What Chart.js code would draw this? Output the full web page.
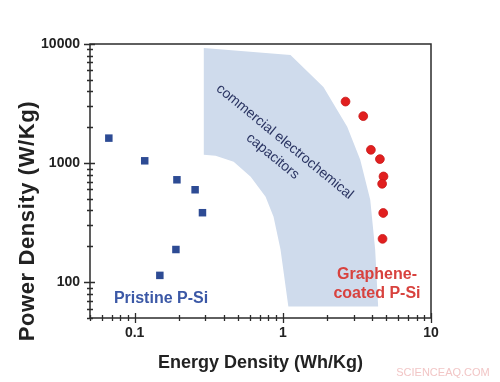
<!DOCTYPE html>
<html>
<head>
<meta charset="utf-8">
<script src="https://cdn.jsdelivr.net/npm/chart.js@4.4.1/dist/chart.umd.min.js"></script>
<style>
html,body{margin:0;padding:0;background:#ffffff;}
#wrap{width:500px;height:382px;position:relative;}
</style>
</head>
<body>
<div id="wrap"><canvas id="c" width="500" height="382"></canvas></div>
<script>
// ---- data ----
const pristineX = [0.067, 0.117, 0.193, 0.256, 0.287, 0.190, 0.148];
const pristineY = [1620, 1045, 724, 597, 383, 188, 114];
const grapheneX = [2.65, 3.49, 3.93, 4.52, 4.78, 4.68, 4.76, 4.71];
const grapheneY = [3285, 2478, 1292, 1080, 772, 670, 381, 231];
// commercial electrochemical capacitor region (outline)
const regionX = [0.293, 1.127, 1.88, 2.72, 3.33, 3.89, 4.20, 4.40, 1.09, 0.965, 0.866, 0.765, 0.607, 0.466, 0.352, 0.293];
const regionY = [9260, 8090, 4360, 2015, 1066, 492, 188, 62.5, 62.5, 188, 355, 522, 767, 1025, 1151, 1174];
const xTickValues = [0.1, 1, 10];
const xTickLabels = ['0.1', '1', '10'];
const yTickValues = [100, 1000, 10000];
const yTickLabels = ['100', '1000', '10000'];
const xMinorTicks = [0.05,0.06,0.07,0.08,0.09,0.2,0.3,0.4,0.5,0.6,0.7,0.8,0.9,2,3,4,5,6,7,8,9];
const yMinorTicks = [50,60,70,80,90,200,300,400,500,600,700,800,900,2000,3000,4000,5000,6000,7000,8000,9000];
const xTitle = 'Energy Density (Wh/Kg)';
const yTitle = 'Power Density (W/Kg)';

const zip = (xs, ys) => xs.map((x, i) => ({x: x, y: ys[i]}));

const axisPlugin = {
  id: 'axisPlugin',
  afterDraw(chart) {
    const ctx = chart.ctx;
    const xs = chart.scales.x, ys = chart.scales.y;
    const a = chart.chartArea;
    ctx.save();
    // annotation text in region
    ctx.fillStyle = '#2a3462';
    ctx.font = '14px "Liberation Sans", Arial, sans-serif';
    ctx.textAlign = 'center';
    ctx.textBaseline = 'middle';
    const ang = 39.4 * Math.PI / 180;
    const cx = xs.getPixelForValue(1.03), cy = ys.getPixelForValue(1510);
    ctx.translate(cx, cy);
    ctx.rotate(ang);
    ctx.fillText('commercial electrochemical', 0, 0);
    ctx.fillText('capacitors', 0, 19);
    ctx.restore();

    ctx.save();
    // labels
    ctx.textAlign = 'center';
    ctx.textBaseline = 'middle';
    ctx.font = 'bold 16px "Liberation Sans", Arial, sans-serif';
    ctx.fillStyle = '#3b58a6';
    ctx.fillText('Pristine P-Si', 161, 299);
    ctx.fillStyle = '#d8423e';
    ctx.fillText('Graphene-', 377, 275);
    ctx.fillText('coated P-Si', 377, 294);

    // frame
    ctx.strokeStyle = '#2b2b2b';
    ctx.lineWidth = 1.5;
    ctx.strokeRect(a.left, a.top, a.right - a.left, a.bottom - a.top);
    // ticks
    ctx.lineWidth = 1.3;
    ctx.beginPath();
    xMinorTicks.forEach(v => { const p = Math.round(xs.getPixelForValue(v)) + 0.5; ctx.moveTo(p, a.bottom - 3); ctx.lineTo(p, a.bottom + 3); });
    xTickValues.forEach(v => { const p = Math.round(xs.getPixelForValue(v)) + 0.5; ctx.moveTo(p, a.bottom - 5); ctx.lineTo(p, a.bottom + 5); });
    yMinorTicks.forEach(v => { const p = Math.round(ys.getPixelForValue(v)) + 0.5; ctx.moveTo(a.left - 3, p); ctx.lineTo(a.left + 3, p); });
    yTickValues.forEach(v => { const p = Math.round(ys.getPixelForValue(v)) + 0.5; ctx.moveTo(a.left - 6, p); ctx.lineTo(a.left + 5, p); });
    ctx.stroke();

    // tick labels
    ctx.fillStyle = '#222';
    ctx.font = 'bold 14px "Liberation Sans", Arial, sans-serif';
    ctx.textAlign = 'center';
    ctx.textBaseline = 'middle';
    xTickValues.forEach((v, i) => ctx.fillText(xTickLabels[i], xs.getPixelForValue(v), a.bottom + 15));
    ctx.textAlign = 'right';
    yTickValues.forEach((v, i) => ctx.fillText(yTickLabels[i], a.left - 10, ys.getPixelForValue(v)));

    // axis titles
    ctx.textAlign = 'center';
    ctx.font = 'bold 18px "Liberation Sans", Arial, sans-serif';
    ctx.fillText(xTitle, (a.left + a.right) / 2, 363);
    ctx.save();
    ctx.translate(28, 221);
    ctx.rotate(-Math.PI / 2);
    ctx.font = 'bold 22px "Liberation Sans", Arial, sans-serif';
    if ('letterSpacing' in ctx) ctx.letterSpacing = '0.6px';
    ctx.fillText(yTitle, 0, 0);
    ctx.restore();

    // watermark
    ctx.font = '11px "Liberation Sans", Arial, sans-serif';
    ctx.fillStyle = '#f2c6c6';
    ctx.textAlign = 'center';
    ctx.fillText('SCIENCEAQ.COM', 443, 373);
    ctx.restore();
  }
};

new Chart(document.getElementById('c'), {
  type: 'scatter',
  data: {
    datasets: [
      {
        label: 'Pristine P-Si',
        data: zip(pristineX, pristineY),
        pointStyle: 'rect',
        pointRadius: 5.3,
        backgroundColor: '#2d4b94',
        borderColor: '#2d4b94',
        borderWidth: 0,
        order: 1
      },
      {
        label: 'Graphene-coated P-Si',
        data: zip(grapheneX, grapheneY),
        pointStyle: 'circle',
        pointRadius: 4.4,
        backgroundColor: '#e11f1f',
        borderColor: '#c81818',
        borderWidth: 0.8,
        order: 2
      },
      {
        label: 'commercial electrochemical capacitors',
        data: zip(regionX, regionY),
        showLine: true,
        fill: 'shape',
        backgroundColor: '#cfdbec',
        borderColor: '#cfdbec',
        borderWidth: 0,
        pointRadius: 0,
        tension: 0,
        order: 10
      }
    ]
  },
  plugins: [axisPlugin],
  options: {
    responsive: false,
    animation: false,
    layout: { padding: { left: 90, right: 69, top: 44, bottom: 64 } },
    plugins: { legend: { display: false }, tooltip: { enabled: false } },
    scales: {
      x: { type: 'logarithmic', min: 0.05, max: 10, display: false },
      y: { type: 'logarithmic', min: 50, max: 10000, display: false }
    }
  }
});
</script>
</body>
</html>
